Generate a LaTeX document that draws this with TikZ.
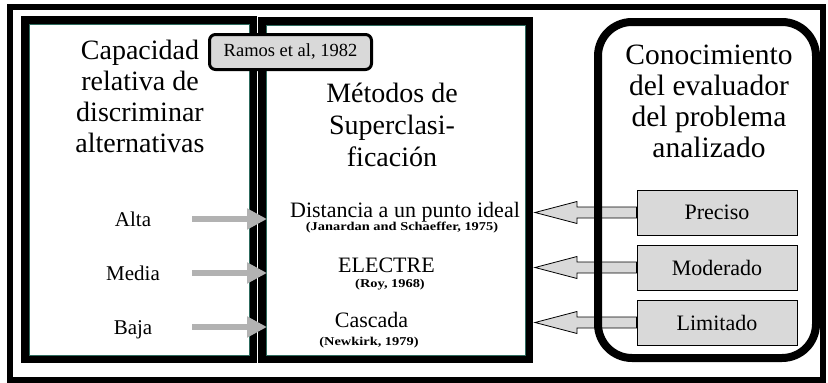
\documentclass[tikz,border=0pt]{standalone}
\usepackage{fontspec}
\setmainfont{Liberation Serif}
\usetikzlibrary{arrows.meta}
\usetikzlibrary{shapes.misc}
\usetikzlibrary{calc}
\usetikzlibrary{positioning}
\definecolor{boxgray}{HTML}{D9D9D9}
\definecolor{arrowgray}{HTML}{B2B2B2}
\definecolor{edgeteal}{HTML}{2E6B5E}

\tikzset{
  frame3d/.style={draw,line width=8pt,chamfered rectangle,
    chamfered rectangle corners={north east,south west},
    chamfered rectangle xsep=5pt,chamfered rectangle ysep=5pt,inner sep=0pt},
  roundframe/.style={draw,line width=8pt,rounded corners=34pt,inner sep=0pt},
  headtext/.style={font=\fontsize{28}{31}\selectfont,align=center,inner sep=0pt},
  reflabel/.style={draw,fill=boxgray,line width=3pt,rounded corners=6pt,
    minimum width=162pt,minimum height=35pt,inner sep=0pt,
    font=\fontsize{18.5}{18.5}\selectfont},
  gradelabel/.style={font=\fontsize{21}{21}\selectfont,inner sep=0pt,
    text height=14pt,text depth=0pt},
  methodtext/.style={font=\fontsize{22}{22}\selectfont,inner sep=0pt},
  methodref/.style={font=\fontsize{12}{12}\selectfont\bfseries,inner sep=0pt},
  knowbox/.style={draw,fill=boxgray,line width=0.8pt,minimum width=160pt,
    minimum height=45pt,inner sep=0pt,font=\fontsize{22}{22}\selectfont},
  gradearrow/.style={draw=arrowgray,line width=6pt,
    -{Triangle[length=20pt,width=20pt,fill=arrowgray]}},
  blockarrow/.style={draw,fill=boxgray,line width=0.8pt}
}

\begin{document}
\begin{tikzpicture}[x=1pt,y=-1pt]
\useasboundingbox (0,0) rectangle (828,383);
% outer frame
\draw[line width=5.5pt] (10,6.8) rectangle (823,379.8);

% the three columns
\path (139,189.5) node(capbox) [frame3d,minimum width=228pt,minimum height=339pt] {};
\path (395.5,190) node(metbox) [frame3d,minimum width=267pt,minimum height=338pt] {};
\draw[edgeteal,line width=0.8pt] ([shift={(8,8)}]capbox.north west) rectangle ([shift={(-8,-8)}]capbox.south east);
\draw[edgeteal,line width=0.8pt] ([shift={(8,8)}]metbox.north west) rectangle ([shift={(-8,-8)}]metbox.south east);

% base = last line
\path (140,152) node(captitle) [headtext,anchor=base] {Capacidad\\relativa de\\discriminar\\alternativas};
\path (392,166) node(mettitle) [headtext,anchor=base,font=\fontsize{28}{32}\selectfont] {Métodos de\\Superclasi-\\ficación};
\path (709,157) node(contitle) [headtext,anchor=base,font=\fontsize{29.5}{31}\selectfont] {Conocimiento\\del evaluador\\del problema\\analizado};

\path (290.5,52) node(ramos) [reflabel] {Ramos et al, 1982};

% grades
\path (133,226) node(alta) [gradelabel,anchor=base] {Alta};
\path (133,280) node(media) [gradelabel,anchor=base] {Media};
\path (133,334) node(baja) [gradelabel,anchor=base] {Baja};

% methods
\path (405,217) node(dist) [methodtext,anchor=base] {Distancia a un punto ideal};
\path (402,230) node(distref) [methodref,anchor=base] {\scalebox{1.2}[1]{(Janardan and Schaeffer, 1975)}};
\path (386.5,272) node(elec) [methodtext,anchor=base] {ELECTRE};
\path (390,287) node(elecref) [methodref,anchor=base] {\scalebox{1.2}[1]{(Roy, 1968)}};
\path (371.5,327) node(casc) [methodtext,anchor=base] {Cascada};
\path (369,345) node(cascref) [methodref,anchor=base] {\scalebox{1.2}[1]{(Newkirk, 1979)}};

% knowledge
\path (717,212.5) node(prec) [knowbox] {Preciso};
\path (717,267.5) node(mode) [knowbox] {Moderado};
\path (717,322.5) node(limi) [knowbox] {Limitado};

\foreach \kb in {prec,mode,limi}
  \draw[blockarrow] let \p1=(\kb.west), \p2=(metbox.east) in
    (\x1,\y1+5.5pt) -- (\x2+44pt,\y1+5.5pt) -- (\x2+44pt,\y1+11pt) -- (\x2+2pt,\y1)
    -- (\x2+44pt,\y1-11pt) -- (\x2+44pt,\y1-5.5pt) -- (\x1,\y1-5.5pt) -- cycle;

\path (707,190) node(conbox) [roundframe,minimum width=218pt,minimum height=336pt] {};

\coordinate (arrowfoot) at (192,0);
\foreach \gr in {alta,media,baja}
  \draw[gradearrow] (\gr.east -| arrowfoot) -- ([xshift=9pt]\gr.east -| metbox.west);
\end{tikzpicture}
\end{document}
